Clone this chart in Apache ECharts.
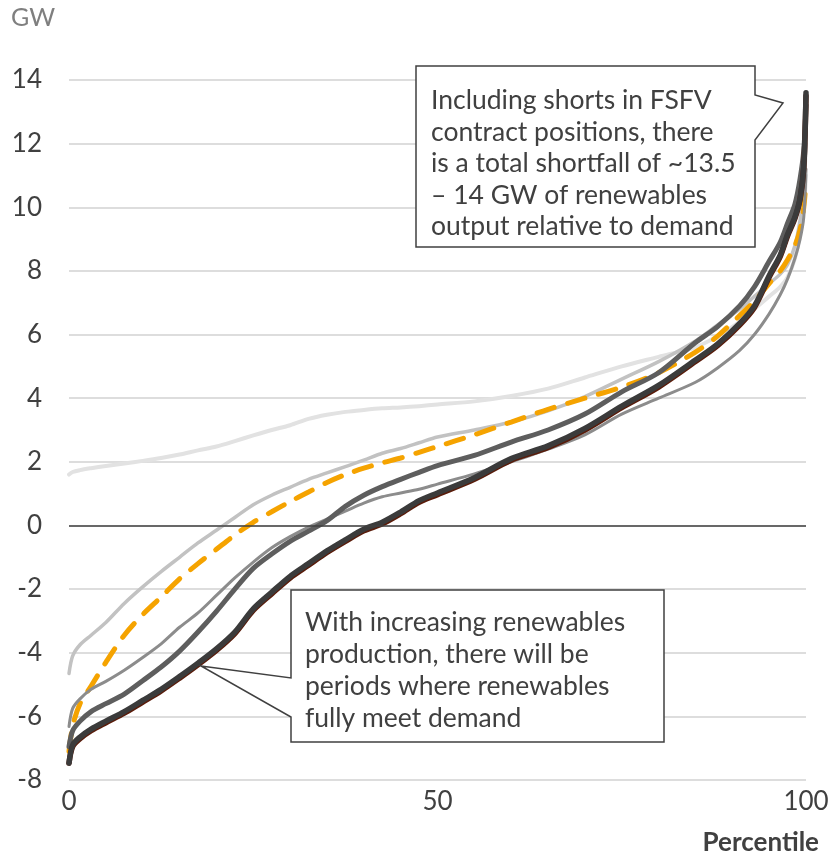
<!DOCTYPE html>
<html>
<head>
<meta charset="utf-8">
<script src="https://cdn.jsdelivr.net/npm/echarts@6/dist/echarts.min.js"></script>
<style>
  html, body { margin: 0; padding: 0; background: #ffffff; }
  #chart { width: 833px; height: 858px; }
</style>
</head>
<body>
<div id="chart"></div>
<script>
// Percentile grid shared by every duration curve
const percentiles = [0, 0.5, 1.5, 3, 5, 7.5, 10, 12.5, 15, 17.5, 20, 22.5, 25, 27.5, 30, 32.5, 35, 37.5, 40, 42.5, 45, 47.5, 50, 55, 60, 65, 70, 75, 80, 85, 88, 91, 93, 95, 96.5, 97.5, 98.5, 99.2, 99.7, 100];

// Residual shortfall (GW) by percentile for each case
const curveVeryLight = [1.6, 1.68, 1.74, 1.8, 1.87, 1.95, 2.03, 2.12, 2.23, 2.36, 2.48, 2.65, 2.83, 3.0, 3.15, 3.35, 3.48, 3.57, 3.63, 3.68, 3.71, 3.75, 3.8, 3.9, 4.07, 4.3, 4.65, 5.0, 5.3, 5.6, 5.95, 6.4, 6.8, 7.2, 7.5, 7.8, 8.4, 9.2, 10.0, 11.0];
const curveLight = [-4.65, -4.1, -3.75, -3.45, -3.05, -2.45, -1.93, -1.45, -1.0, -0.55, -0.15, 0.25, 0.65, 0.95, 1.2, 1.45, 1.65, 1.85, 2.05, 2.27, 2.42, 2.6, 2.78, 3.0, 3.25, 3.6, 4.05, 4.6, 5.15, 5.8, 6.3, 6.8, 7.2, 7.6, 7.9, 8.2, 8.8, 9.6, 10.5, 12.0];
const curveOrange = [-7.1, -6.3, -5.6, -5.05, -4.3, -3.45, -2.8, -2.25, -1.68, -1.2, -0.75, -0.3, 0.1, 0.43, 0.75, 1.05, 1.35, 1.6, 1.8, 1.97, 2.12, 2.3, 2.48, 2.85, 3.25, 3.65, 4.0, 4.35, 4.8, 5.45, 5.95, 6.6, 7.05, 7.6, 8.0, 8.35, 8.8, 9.3, 10.0, 10.8];
const curveMedium = [-6.32, -5.75, -5.45, -5.15, -4.9, -4.55, -4.15, -3.72, -3.2, -2.75, -2.2, -1.65, -1.15, -0.7, -0.35, -0.05, 0.2, 0.45, 0.7, 0.9, 1.02, 1.14, 1.3, 1.62, 2.0, 2.4, 2.85, 3.5, 4.0, 4.5, 4.95, 5.5, 6.0, 6.65, 7.25, 7.75, 8.4, 9.0, 9.7, 11.2];
const curveDark = [-6.95, -6.45, -6.15, -5.85, -5.6, -5.3, -4.88, -4.45, -3.95, -3.35, -2.7, -2.0, -1.35, -0.9, -0.5, -0.18, 0.15, 0.6, 0.95, 1.22, 1.45, 1.67, 1.88, 2.2, 2.62, 3.0, 3.5, 4.2, 4.8, 5.75, 6.25, 6.9, 7.5, 8.3, 8.9, 9.5, 10.1, 10.9, 11.8, 13.2];
const curveBrown = [-7.47, -6.95, -6.7, -6.45, -6.2, -5.9, -5.55, -5.2, -4.8, -4.38, -3.93, -3.4, -2.67, -2.15, -1.65, -1.25, -0.85, -0.5, -0.17, 0.05, 0.37, 0.73, 0.97, 1.45, 2.05, 2.45, 3.0, 3.7, 4.35, 5.15, 5.65, 6.3, 6.85, 7.8, 8.45, 9.1, 9.65, 10.25, 11.25, 13.5];
const curveBlack = [-7.47, -6.9, -6.65, -6.4, -6.15, -5.85, -5.5, -5.15, -4.75, -4.33, -3.88, -3.35, -2.62, -2.1, -1.6, -1.2, -0.8, -0.45, -0.12, 0.1, 0.42, 0.78, 1.02, 1.5, 2.1, 2.5, 3.05, 3.75, 4.4, 5.2, 5.7, 6.35, 6.9, 7.85, 8.5, 9.15, 9.7, 10.3, 11.3, 13.6];

// Axis ticks
const yTicks = { min: -8, max: 14, step: 2 };
const xTicks = { min: 0, max: 100, step: 50 };

const FONT = 'Lato, "Noto Sans", sans-serif';
const TEXT = '#404040';

function pairs(values) {
  return percentiles.map((p, i) => [p, values[i]]);
}

function curve(name, values, color, width, extra) {
  return Object.assign({
    name: name,
    type: 'line',
    data: pairs(values),
    showSymbol: false,
    smooth: 0.3,
    silent: true,
    lineStyle: { color: color, width: width, cap: 'round', join: 'round' }
  }, extra || {});
}

const chart = echarts.init(document.getElementById('chart'), null, { renderer: 'canvas' });

chart.setOption({
  animation: false,
  backgroundColor: '#ffffff',
  grid: { left: 69, right: 27, top: 80, bottom: 78, containLabel: false },
  xAxis: {
    type: 'value',
    min: xTicks.min, max: xTicks.max, interval: xTicks.step,
    axisLine: { show: false },
    axisTick: { show: false },
    splitLine: { show: false },
    axisLabel: { color: TEXT, fontSize: 26, fontFamily: FONT, margin: 9 }
  },
  yAxis: {
    type: 'value',
    min: yTicks.min, max: yTicks.max, interval: yTicks.step,
    axisLine: { show: false },
    axisTick: { show: false },
    splitLine: { lineStyle: { color: '#d2d2d2', width: 1.5 } },
    axisLabel: { color: TEXT, fontSize: 26, fontFamily: FONT, margin: 27 }
  },
  series: [
    curve('veryLight', curveVeryLight, '#e2e2e2', 4, {
      markLine: {
        silent: true, symbol: 'none', label: { show: false },
        lineStyle: { color: '#404040', width: 1.5, type: 'solid' },
        data: [{ yAxis: 0 }]
      }
    }),
    curve('light', curveLight, '#c2c2c2', 3.5),
    curve('orange', curveOrange, '#f5a300', 5, {
      lineStyle: { color: '#f5a300', width: 5, type: [18, 14], cap: 'round' }
    }),
    curve('medium', curveMedium, '#8c8c8c', 3),
    curve('dark', curveDark, '#5e5e5e', 5),
    curve('brown', curveBrown, '#5a1c0a', 5.5),
    curve('black', curveBlack, '#3b3b3b', 5.5)
  ],
  graphic: [
    {
      type: 'text', left: 11, top: 5, z: 100,
      style: { text: 'GW', font: '25px ' + FONT, fill: '#7f7f7f' }
    },
    {
      type: 'text', right: 14, top: 830, z: 100,
      style: { text: 'Percentile', font: 'bold 26px ' + FONT, fill: TEXT }
    },
    {
      type: 'polygon', z: 100,
      shape: { points: [[416, 66], [755, 66], [755, 95], [783, 103], [755, 140], [755, 247], [416, 247]] },
      style: { fill: '#ffffff', stroke: '#404040', lineWidth: 1.5 }
    },
    {
      type: 'text', x: 431, y: 85, z: 101,
      style: {
        text: 'Including shorts in FSFV\ncontract positions, there\nis a total shortfall of ~13.5\n– 14 GW of renewables\noutput relative to demand',
        font: '26.5px ' + FONT, lineHeight: 31.5, fill: TEXT
      }
    },
    {
      type: 'polygon', z: 100,
      shape: { points: [[291, 590], [664, 590], [664, 742], [291, 742], [291, 717], [201, 666], [291, 678]] },
      style: { fill: '#ffffff', stroke: '#404040', lineWidth: 1.5 }
    },
    {
      type: 'text', x: 305, y: 606, z: 101,
      style: {
        text: 'With increasing renewables\nproduction, there will be\nperiods where renewables\nfully meet demand',
        font: '26.5px ' + FONT, lineHeight: 32, fill: TEXT
      }
    }
  ]
});
</script>
</body>
</html>
